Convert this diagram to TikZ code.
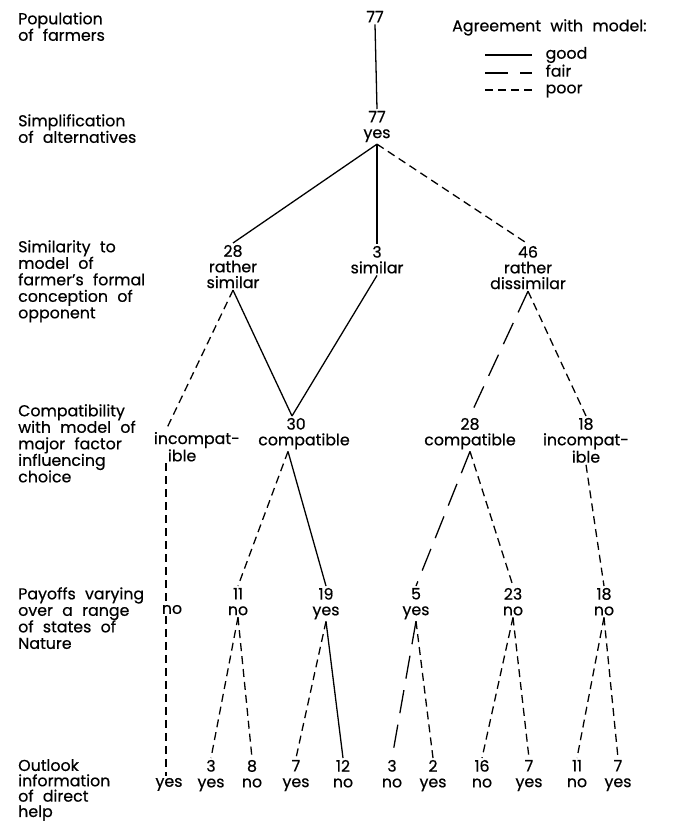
\documentclass[tikz,border=0pt]{standalone}
\usepackage{fontspec}
\setmainfont{Poppins}[FakeBold=0.5,WordSpace=2.2]
\usepackage{tikz}

\begin{document}
\begin{tikzpicture}[x=0.03cm,y=-0.03cm,
    good/.style={line width=1.1pt},
    fair/.style={line width=1.1pt,dash pattern=on 0.7cm off 0.35cm},
    poor/.style={line width=1.1pt,dash pattern=on 0.24cm off 0.15cm},
    tn/.style={align=center,anchor=north,inner sep=1.5pt,font=\fontsize{13.5}{13.4}\selectfont},
    lbl/.style={align=left,anchor=north west,inner sep=0pt,font=\fontsize{13.5}{14.1}\selectfont},
    keytxt/.style={anchor=west,inner sep=0pt,xshift=0.39cm,font=\fontsize{13.5}{13}\selectfont}]
    \useasboundingbox (0,0) rectangle (673,821);
    % row labels
        \node[lbl] (pop) at (18,12) {Population\\of farmers};
        \node[lbl] (simp) at (18,114) {Simplification\\of alternatives};
        \node[lbl] (simil) at (18,240) {Similarity to\\model of\\farmer's formal\\conception of\\opponent};
        \node[lbl] (compat) at (18,404) {Compatibility\\with model of\\major factor\\influencing\\choice};
        \node[lbl] (payoff) at (18,587) {Payoffs varying\\over a range\\of states of\\Nature};
        \node[lbl,font=\fontsize{13.5}{13.1}\selectfont] (outlook) at (18,759) {Outlook\\information\\of direct\\help};
    % key
        \node[lbl] (agree) at (452,19) {Agreement with model:};
        \draw[good] (485,55) -- ++(47,0) node[keytxt] (kgood) {good};
        \draw[fair] (485,73) -- ++(47,0) node[keytxt,yshift=0.07cm] (kfair) {fair};
        \draw[poor] (485,90) -- ++(47,0) node[keytxt,yshift=-0.03cm] (kpoor) {poor};
    % first and second level
        \node[tn] (top) at (375,9) {77};
        \node[tn] (yes77) at (377,109) {77\\yes};
        \draw[good] (top.south) -- (yes77.north);

        \node[tn] (rsim) at (233,243) {28\\rather\\similar};
        \node[tn] (sim) at (377,244) {3\\similar};
        \node[tn] (rdis) at (528,244) {46\\rather\\dissimilar};
        \draw[good] (yes77.south) -- (rsim.north);
        \draw[good] (yes77.south) -- (sim.north);
        \draw[poor] (yes77.south) -- (rdis.north);
    % compatibility
        \node[tn,align=left,anchor=north west] (incL) at (166,430) {\llap{in}compat-\\ible};
        \node[tn] (comp30) at (304,416) {30\hspace*{1em}\\compatible};
        \node[tn] (comp28) at (470,416) {28\\compatible};
        \node[tn] (inc18) at (586,416) {18\\incompat-\\ible};
        \draw[poor] (rsim.south) -- (incL.north west);
        \draw[good] (rsim.south) -- ([xshift=-0.36cm]comp30.north);
        \draw[good] (sim.south) -- ([xshift=-0.36cm]comp30.north);
        \draw[fair] (rdis.south) -- (comp28.north);
        \draw[poor] (rdis.south) -- (inc18.north);
    % payoffs
        \node[tn] (noL) at (172,603) {no};
        \node[tn] (no11) at (238,586) {11\\no};
        \node[tn] (yes19) at (326,586) {19\\yes};
        \node[tn] (yes5) at (416,586) {5\\yes};
        \node[tn] (no23) at (513,586) {23\\no};
        \node[tn] (no18) at (604,586) {18\\no};
        \draw[poor] (incL.south west) -- (incL.south west |- noL.north);
        \draw[poor] ([xshift=-0.48cm]comp30.south) -- (no11.north);
        \draw[good] ([xshift=-0.48cm]comp30.south) -- (yes19.north);
        \draw[fair] (comp28.south) -- (yes5.north);
        \draw[poor] (comp28.south) -- (no23.north);
        \draw[poor] (inc18.south) -- (no18.north);
    % outlook
        \node[tn] (yesL) at (169,776) {yes};
        \node[tn] (out3) at (211,758) {3\\yes};
        \node[tn] (out8) at (252,758) {8\\no};
        \node[tn] (out7a) at (296,758) {7\\yes};
        \node[tn] (out12) at (343,758) {12\\no};
        \node[tn] (out3b) at (392,758) {3\\no};
        \node[tn] (out2) at (433,758) {2\\yes};
        \node[tn] (out16) at (482,758) {16\\no};
        \node[tn] (out7b) at (529,758) {7\\yes};
        \node[tn] (out11) at (577,758) {11\\no};
        \node[tn] (out7c) at (618,758) {7\\yes};
        \draw[poor] (incL.south west |- noL.south) -- (incL.south west |- yesL.north);
        \draw[poor] (no11.south) -- (out3.north);
        \draw[poor] (no11.south) -- (out8.north);
        \draw[poor] (yes19.south) -- (out7a.north);
        \draw[good] (yes19.south) -- (out12.north);
        \draw[fair] (yes5.south) -- (out3b.north);
        \draw[poor] (yes5.south) -- (out2.north);
        \draw[poor] (no23.south) -- (out16.north);
        \draw[poor] (no23.south) -- (out7b.north);
        \draw[poor] (no18.south) -- (out11.north);
        \draw[poor] (no18.south) -- (out7c.north);
\end{tikzpicture}
\end{document}
